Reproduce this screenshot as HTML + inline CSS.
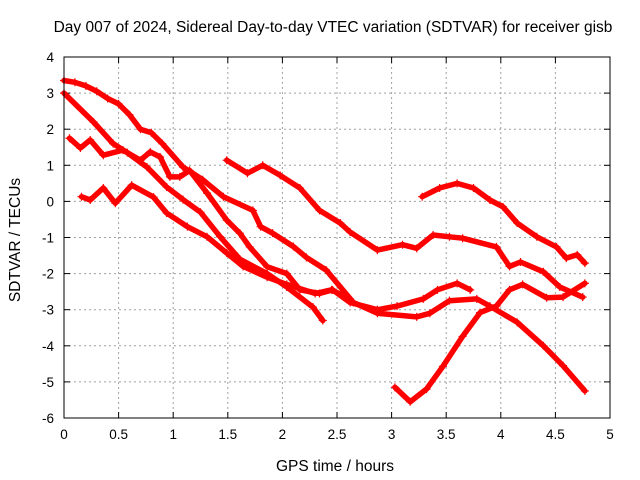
<!DOCTYPE html>
<html><head><meta charset="utf-8"><style>
body{margin:0;background:#fff}
svg{display:block;font-family:"Liberation Sans",sans-serif}
</style></head><body>
<svg id="chart" width="640" height="480">
<text x="333" y="32" text-anchor="middle" font-size="15.5">Day 007 of 2024, Sidereal Day-to-day VTEC variation (SDTVAR) for receiver gisb</text>
<text x="335" y="471" text-anchor="middle" font-size="15.5">GPS time / hours</text>
<text x="0" y="0" transform="translate(20,240) rotate(-90)" text-anchor="middle" font-size="15.5">SDTVAR / TECUs</text>
<g id="grid"></g><g id="series"></g>
<rect x="64" y="57" width="546" height="361" fill="none" stroke="#000" stroke-width="1"/>
</svg>
<script>
const xTicks=[0,0.5,1,1.5,2,2.5,3,3.5,4,4.5,5];
const yTicks=[4,3,2,1,0,-1,-2,-3,-4,-5,-6];
const s1x=[0,0.1,0.2,0.3,0.4,0.5,0.6,0.7,0.8,0.9,1.09,1.27,1.46,1.73,1.8,1.91,2.1,2.22,2.4,2.65,2.87,3.23,3.35,3.53,3.78,3.9,4.15,4.39,4.57,4.77];
const s1y=[3.35,3.3,3.2,3.05,2.85,2.7,2.4,2.0,1.9,1.6,0.95,0.6,0.13,-0.25,-0.7,-0.88,-1.25,-1.55,-1.9,-2.8,-3.1,-3.2,-3.1,-2.75,-2.7,-2.9,-3.35,-4.0,-4.55,-5.25];
const s2x=[0,0.27,0.45,0.58,0.76,0.94,1.09,1.25,1.43,1.61,1.86,2.04,2.28,2.37];
const s2y=[3.0,2.2,1.6,1.35,0.95,0.4,0.05,-0.3,-0.98,-1.6,-2.0,-2.37,-2.93,-3.3];
const s3x=[0.05,0.15,0.24,0.36,0.54,0.7,0.79,0.88,0.97,1.06,1.15,1.31,1.49,1.61,1.7,1.86,2.04,2.16,2.34,2.46,2.62,2.87,3.05,3.29,3.42,3.6,3.72];
const s3y=[1.75,1.48,1.7,1.28,1.42,1.14,1.37,1.23,0.68,0.68,0.86,0.23,-0.52,-0.88,-1.26,-1.81,-2.0,-2.45,-2.55,-2.45,-2.8,-3.0,-2.9,-2.7,-2.45,-2.27,-2.45];
const s4x=[0.16,0.24,0.36,0.47,0.62,0.82,0.94,1.13,1.31,1.49,1.64,1.86,2.04,2.3,2.45,2.55];
const s4y=[0.13,0.04,0.37,-0.05,0.45,0.12,-0.32,-0.7,-0.98,-1.43,-1.8,-2.1,-2.3,-2.55,-2.45,-2.6];
const s5x=[3.28,3.44,3.6,3.75,3.9,4.02,4.15,4.33,4.51,4.6,4.7,4.77];
const s5y=[0.13,0.37,0.5,0.37,0.04,-0.15,-0.6,-0.98,-1.26,-1.57,-1.48,-1.71];
const s6x=[1.49,1.68,1.82,1.98,2.16,2.34,2.53,2.62,2.87,3.1,3.23,3.38,3.53,3.65,3.96,4.08,4.18,4.39,4.54,4.75];
const s6y=[1.14,0.78,1.0,0.72,0.37,-0.25,-0.6,-0.85,-1.35,-1.2,-1.3,-0.93,-0.98,-1.02,-1.26,-1.8,-1.68,-1.95,-2.37,-2.65];
const s7x=[3.03,3.17,3.32,3.47,3.65,3.81,3.96,4.08,4.2,4.42,4.57,4.77];
const s7y=[-5.15,-5.55,-5.2,-4.57,-3.74,-3.08,-2.9,-2.45,-2.3,-2.67,-2.65,-2.27];
const seriesX=[s1x,s2x,s3x,s4x,s5x,s6x,s7x];
const seriesY=[s1y,s2y,s3y,s4y,s5y,s6y,s7y];
const NS="http://www.w3.org/2000/svg";
function X(h){return 64+h*(546/5);}
function Y(v){return 57+(4-v)*(361/10);}
const grid=document.getElementById('grid');
function mk(t,a,p){const e=document.createElementNS(NS,t);for(const k in a)e.setAttribute(k,a[k]);(p||grid).appendChild(e);return e;}
xTicks.forEach(t=>{
  const x=X(t);
  if(t>0&&t<5){const g=mk('line',{x1:x,x2:x,y1:57,y2:418,stroke:'#a0a0a0','stroke-dasharray':'2,3'});
  
  }
  mk('line',{x1:x,x2:x,y1:418,y2:412,stroke:'#000'});mk('line',{x1:x,x2:x,y1:57,y2:63,stroke:'#000'});
  const l=mk('text',{x:x,y:439,'text-anchor':'middle','font-size':'13.5'});l.textContent=t;
  
  
});
yTicks.forEach(t=>{
  const y=Y(t);
  if(t<4&&t>-6){const g=mk('line',{x1:64,x2:610,y1:y,y2:y,stroke:'#a0a0a0','stroke-dasharray':'2,3'});
  
  }
  mk('line',{x1:64,x2:70,y1:y,y2:y,stroke:'#000'});mk('line',{x1:610,x2:604,y1:y,y2:y,stroke:'#000'});
  const l=mk('text',{x:54,y:y+5,'text-anchor':'end','font-size':'13.5'});l.textContent=t;
  
  
});
const sg=document.getElementById('series');
seriesX.forEach((xs,i)=>{
  const ys=seriesY[i];
  const pts=xs.map((h,j)=>X(h).toFixed(1)+','+Y(ys[j]).toFixed(1)).join(' ');
  const pl=mk('polyline',{points:pts,fill:'none',stroke:'#ff0000','stroke-width':'5.5','stroke-linejoin':'round','stroke-linecap':'round'},sg);
  
  
  xs.forEach((h,j)=>{
    const x=X(h),y=Y(ys[j]);
    const m=mk('path',{d:`M${x-4},${y}H${x+4}M${x},${y-4}V${y+4}`,stroke:'#ff0000','stroke-width':'1.2'},sg);
    
    
  });
});
</script>
</body></html>
